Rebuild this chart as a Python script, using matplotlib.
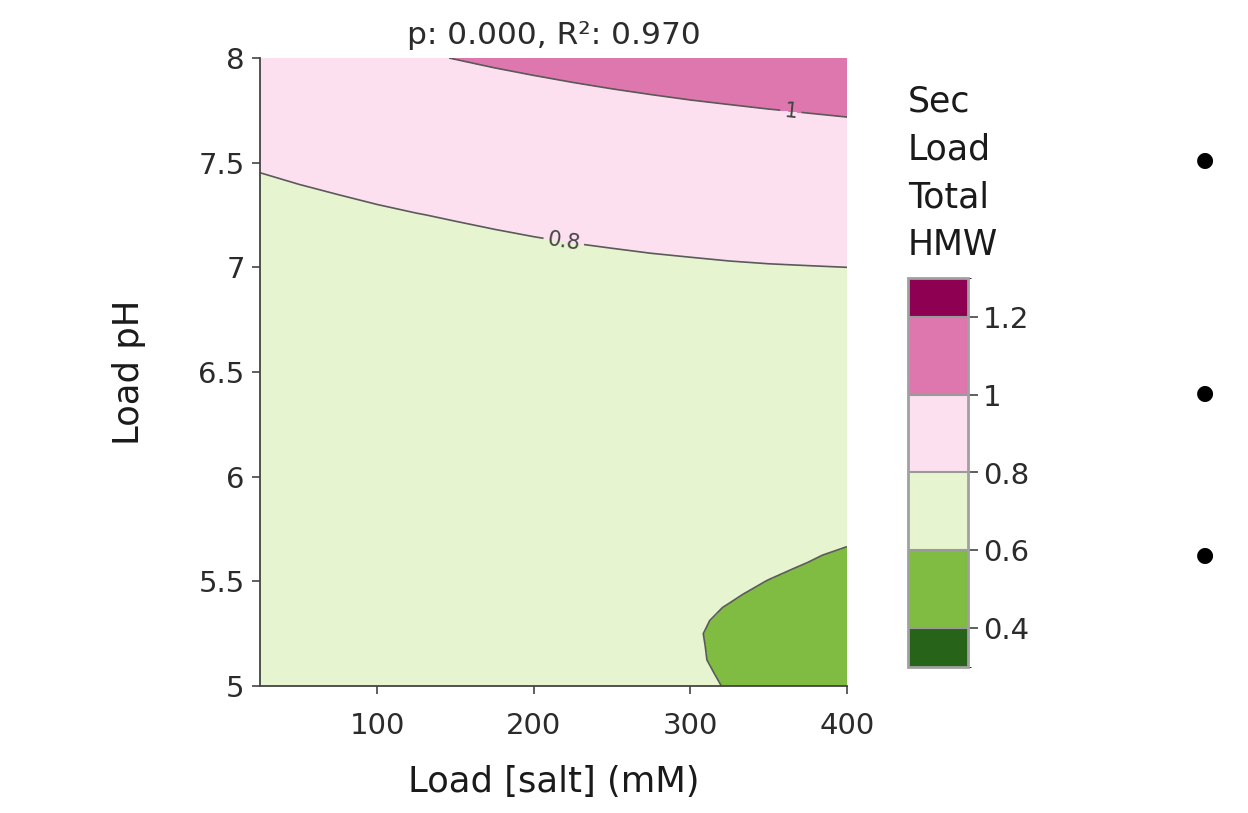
import numpy as np
import matplotlib
matplotlib.use("Agg")
import matplotlib.pyplot as plt
from matplotlib.colors import ListedColormap, BoundaryNorm

# ---- data ----
salt_mM = [25, 50, 75, 100, 125, 150, 175, 200, 225, 250, 275, 300, 325, 350, 375, 400]
load_pH = [5.0, 5.0625, 5.125, 5.1875, 5.25, 5.3125, 5.375, 5.4375, 5.5, 5.5625, 5.625,
           5.75, 6.0, 6.25, 6.5, 6.75, 7.0, 7.25, 7.5, 7.75, 8.0]
# estimated response (Sec Load Total HMW), one row per pH value (bottom -> top)
hmw_pH_50000 = [0.6450, 0.6445, 0.6435, 0.6420, 0.6400, 0.6374, 0.6343, 0.6306, 0.6254, 0.6192, 0.6120, 0.6049, 0.5987, 0.5918, 0.5845, 0.5766]
hmw_pH_50625 = [0.6399, 0.6398, 0.6391, 0.6379, 0.6361, 0.6339, 0.6311, 0.6277, 0.6228, 0.6169, 0.6104, 0.6039, 0.5974, 0.5909, 0.5844, 0.5779]
hmw_pH_51250 = [0.6348, 0.6350, 0.6346, 0.6337, 0.6322, 0.6303, 0.6278, 0.6247, 0.6202, 0.6146, 0.6085, 0.6026, 0.5964, 0.5902, 0.5834, 0.5762]
hmw_pH_51875 = [0.6307, 0.6312, 0.6311, 0.6305, 0.6293, 0.6277, 0.6255, 0.6228, 0.6185, 0.6137, 0.6079, 0.6022, 0.5964, 0.5907, 0.5849, 0.5792]
hmw_pH_52500 = [0.6265, 0.6273, 0.6275, 0.6273, 0.6264, 0.6251, 0.6232, 0.6208, 0.6168, 0.6124, 0.6069, 0.6018, 0.5963, 0.5907, 0.5846, 0.5780]
hmw_pH_53125 = [0.6234, 0.6245, 0.6250, 0.6251, 0.6245, 0.6235, 0.6219, 0.6198, 0.6167, 0.6138, 0.6083, 0.6026, 0.5973, 0.5918, 0.5863, 0.5808]
hmw_pH_53750 = [0.6202, 0.6216, 0.6225, 0.6228, 0.6226, 0.6218, 0.6206, 0.6188, 0.6165, 0.6126, 0.6082, 0.6036, 0.5992, 0.5942, 0.5887, 0.5827]
hmw_pH_54375 = [0.6181, 0.6198, 0.6208, 0.6214, 0.6218, 0.6214, 0.6203, 0.6189, 0.6168, 0.6145, 0.6105, 0.6060, 0.6015, 0.5970, 0.5925, 0.5880]
hmw_pH_55000 = [0.6160, 0.6180, 0.6190, 0.6200, 0.6210, 0.6210, 0.6200, 0.6190, 0.6170, 0.6150, 0.6120, 0.6085, 0.6042, 0.5996, 0.5950, 0.5892]
hmw_pH_55625 = [0.6147, 0.6170, 0.6186, 0.6199, 0.6209, 0.6211, 0.6206, 0.6198, 0.6183, 0.6170, 0.6146, 0.6106, 0.6066, 0.6026, 0.5986, 0.5946]
hmw_pH_56250 = [0.6134, 0.6160, 0.6181, 0.6197, 0.6207, 0.6212, 0.6212, 0.6206, 0.6195, 0.6180, 0.6157, 0.6131, 0.6099, 0.6061, 0.6017, 0.5971]
hmw_pH_57500 = [0.613, 0.616, 0.619, 0.621, 0.623, 0.624, 0.624, 0.624, 0.624, 0.623, 0.621, 0.619, 0.617, 0.614, 0.610, 0.606]
hmw_pH_60000 = [0.618, 0.622, 0.626, 0.630, 0.632, 0.635, 0.637, 0.638, 0.639, 0.639, 0.639, 0.638, 0.636, 0.635, 0.632, 0.629]
hmw_pH_62500 = [0.630, 0.636, 0.641, 0.646, 0.650, 0.654, 0.657, 0.659, 0.661, 0.663, 0.664, 0.664, 0.664, 0.663, 0.662, 0.660]
hmw_pH_65000 = [0.651, 0.658, 0.664, 0.670, 0.675, 0.680, 0.684, 0.688, 0.691, 0.694, 0.696, 0.698, 0.699, 0.700, 0.700, 0.699]
hmw_pH_67500 = [0.679, 0.687, 0.695, 0.702, 0.708, 0.714, 0.720, 0.725, 0.729, 0.733, 0.737, 0.740, 0.742, 0.744, 0.745, 0.746]
hmw_pH_70000 = [0.715, 0.724, 0.733, 0.741, 0.749, 0.756, 0.763, 0.769, 0.775, 0.780, 0.785, 0.789, 0.793, 0.796, 0.798, 0.800]
hmw_pH_72500 = [0.758, 0.769, 0.779, 0.789, 0.798, 0.806, 0.814, 0.822, 0.829, 0.835, 0.841, 0.846, 0.851, 0.855, 0.859, 0.862]
hmw_pH_75000 = [0.810, 0.822, 0.833, 0.844, 0.854, 0.864, 0.873, 0.882, 0.890, 0.898, 0.905, 0.911, 0.917, 0.923, 0.928, 0.932]
hmw_pH_77500 = [0.869, 0.882, 0.895, 0.907, 0.918, 0.929, 0.940, 0.950, 0.959, 0.968, 0.976, 0.984, 0.991, 0.998, 1.004, 1.010]
hmw_pH_80000 = [0.936, 0.950, 0.964, 0.977, 0.990, 1.002, 1.014, 1.025, 1.036, 1.046, 1.056, 1.065, 1.073, 1.081, 1.088, 1.095]

levels = [0.3, 0.4, 0.6, 0.8, 1.0, 1.2, 1.3]
level_colors = ["#276419", "#7fbc41", "#e6f5d0", "#fde0ef", "#de77ae", "#8e0152"]
cbar_ticks = [0.4, 0.6, 0.8, 1.0, 1.2]
cbar_ticklabels = ["0.4", "0.6", "0.8", "1", "1.2"]
unlabeled_levels = [0.4, 0.6, 1.2]
labeled_levels = [0.8, 1.0]
labeled_texts = ["0.8", "1"]
x_ticks = [100, 200, 300, 400]
y_ticks = [5, 5.5, 6, 6.5, 7, 7.5, 8]
y_ticklabels = ["5", "5.5", "6", "6.5", "7", "7.5", "8"]
title_text = "p: 0.000, R\u00b2: 0.970"
cbar_title_lines = ["Sec", "Load", "Total", "HMW"]

Z = np.array([hmw_pH_50000, hmw_pH_50625, hmw_pH_51250, hmw_pH_51875, hmw_pH_52500,
              hmw_pH_53125, hmw_pH_53750, hmw_pH_54375, hmw_pH_55000, hmw_pH_55625,
              hmw_pH_56250, hmw_pH_57500, hmw_pH_60000, hmw_pH_62500, hmw_pH_65000,
              hmw_pH_67500, hmw_pH_70000, hmw_pH_72500, hmw_pH_75000, hmw_pH_77500,
              hmw_pH_80000])

plt.rcParams['font.family'] = ['DejaVu Sans']
text_color = "#2b2b2b"
axis_color = "#444444"
line_color = "#5a5a5a"

fig = plt.figure(figsize=(12.48, 8.13), dpi=100)
W, H = 1248, 813
ax = fig.add_axes([260 / W, 1 - 686 / H, 587 / W, 628 / H])

cmap = ListedColormap(level_colors)
norm = BoundaryNorm(levels, cmap.N)
cf = ax.contourf(salt_mM, load_pH, Z, levels=levels, cmap=cmap, norm=norm)
ax.contour(salt_mM, load_pH, Z, levels=unlabeled_levels, colors=line_color, linewidths=1.2)
cl = ax.contour(salt_mM, load_pH, Z, levels=labeled_levels, colors=line_color, linewidths=1.2)
ax.clabel(cl, fmt=dict(zip(labeled_levels, labeled_texts)),
          fontsize=15, colors="#444444", inline=True, inline_spacing=4,
          manual=[(219, 7.12), (364, 7.74)])

ax.set_xlim(salt_mM[0], salt_mM[-1])
ax.set_ylim(load_pH[0], load_pH[-1])
ax.set_xticks(x_ticks)
ax.set_xticklabels([str(t) for t in x_ticks])
ax.set_yticks(y_ticks)
ax.set_yticklabels(y_ticklabels)
for s in ["top", "right"]:
    ax.spines[s].set_visible(False)
for s in ["left", "bottom"]:
    ax.spines[s].set_color(axis_color)
    ax.spines[s].set_linewidth(1.3)
ax.tick_params(axis="both", direction="out", length=6, width=1.2, color=axis_color,
               labelsize=21, labelcolor=text_color)
ax.tick_params(axis="x", pad=13)
ax.tick_params(axis="y", pad=5)

ax.set_xlabel("Load [salt] (mM)", fontsize=25.5, color="#1a1a1a")
ax.xaxis.set_label_coords(0.5, -0.125)
ax.set_ylabel("Load pH", fontsize=25.5, color="#1a1a1a")
ax.yaxis.set_label_coords(-0.195, 0.5)
ax.set_title(title_text, fontsize=22.5, color=text_color, pad=10)

# colorbar
cax = fig.add_axes([908 / W, 1 - 667 / H, 60 / W, 389 / H])
cbar = fig.colorbar(cf, cax=cax, ticks=cbar_ticks, spacing="proportional", drawedges=True)
cbar.set_ticklabels(cbar_ticklabels)
cbar.outline.set_edgecolor("#a0a0a0")
cbar.outline.set_linewidth(2)
cbar.dividers.set_color("#9a9a9a")
cbar.dividers.set_linewidth(1.5)
cax.tick_params(direction="out", length=7, width=1.2, color=axis_color,
                labelsize=21, labelcolor=text_color, pad=4)

for i, line in enumerate(cbar_title_lines):
    fig.text(908 / W, 1 - (112 + 47.7 * i) / H, line, fontsize=25, color="#1a1a1a",
             ha="left", va="baseline")

# legend markers (no text) on the right
for yy in [160, 393, 555]:
    fig.text(1205 / W, 1 - yy / H, "\u25cf", fontsize=15, color="black", ha="center", va="center")

fig.savefig("out.png", dpi=100)
